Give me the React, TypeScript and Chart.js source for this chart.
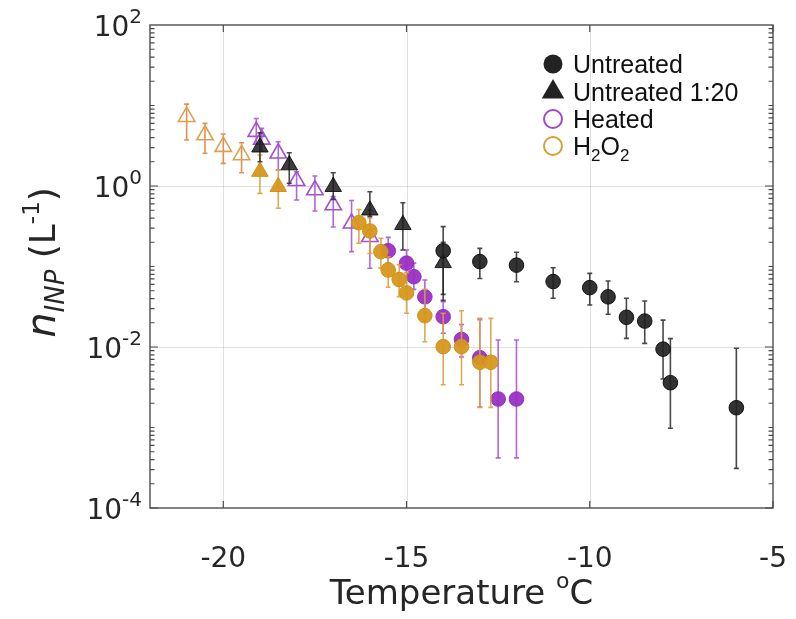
import React, { useEffect, useRef } from 'react';
import { Chart, registerables } from 'chart.js';
Chart.register(...registerables);

// ---- data (temperature in °C, n_INP in L^-1) ----
const untreatedT = [-14, -13, -12, -11, -10, -9.5, -9, -8.5, -8, -7.8, -6];
const untreatedN = [0.157, 0.115, 0.104, 0.065, 0.0546, 0.042, 0.0234, 0.021, 0.0094, 0.0036, 0.00176];
const untreatedHi = [0.313, 0.168, 0.15, 0.0966, 0.0822, 0.066, 0.0403, 0.0372, 0.0216, 0.0127, 0.00964];
const untreatedLo = [0.045, 0.0708, 0.0646, 0.0403, 0.0333, 0.0255, 0.0128, 0.0111, 0.004, 0.00098, 0.000311];

const untreated20T = [-19, -18.2, -17, -16, -15.1, -14];
const untreated20N = [3.03, 1.82, 0.98, 0.5, 0.33, 0.111];
const untreated20Hi = [4.57, 2.59, 1.46, 0.85, 0.62, 0.2];
const untreated20Lo = [2.0, 1.08, 0.68, 0.42, 0.16, 0.038];

const heatedT = [-15.5, -15, -14.8, -14.5, -14, -13.5, -13, -12.5, -12];
const heatedN = [0.157, 0.11, 0.0747, 0.042, 0.0238, 0.0124, 0.00736, 0.00226, 0.00226];
const heatedHi = [0.23, 0.16, 0.11, 0.068, 0.0366, 0.019, 0.0219, 0.0122, 0.0122];
const heatedLo = [0.11, 0.0748, 0.052, 0.0263, 0.0148, 0.0075, 0.0018, 0.00042, 0.00042];

const heated20T = [-19.1, -18.95, -18.5, -18, -17.5, -17, -16.5, -16];
const heated20N = [4.73, 3.8, 2.55, 1.16, 0.89, 0.58, 0.344, 0.234];
const heated20Hi = [6.9, 5.2, 3.55, 1.5, 1.33, 0.74, 0.66, 0.5];
const heated20Lo = [3.3, 2.7, 1.58, 0.67, 0.49, 0.31, 0.153, 0.095];

const h2o2T = [-16.3, -16, -15.7, -15.5, -15.2, -15, -14.5, -14, -13.5, -13, -12.7];
const h2o2N = [0.35, 0.276, 0.153, 0.0905, 0.069, 0.047, 0.0245, 0.0101, 0.0101, 0.00646, 0.00646];
const h2o2Hi = [0.51, 0.4, 0.224, 0.132, 0.105, 0.084, 0.052, 0.0263, 0.0282, 0.0227, 0.0227];
const h2o2Lo = [0.195, 0.145, 0.0955, 0.0552, 0.0422, 0.0263, 0.0116, 0.0034, 0.0034, 0.00178, 0.00178];

const h2o2FilledTriT = [-19, -18.5];
const h2o2FilledTriN = [1.51, 0.98];
const h2o2FilledTriHi = [2.43, 1.58];
const h2o2FilledTriLo = [0.81, 0.53];

const h2o2OpenTriT = [-21, -20.5, -20, -19.5];
const h2o2OpenTriN = [7.26, 4.3, 3.08, 2.43];
const h2o2OpenTriHi = [10.4, 6.0, 4.43, 3.45];
const h2o2OpenTriLo = [3.72, 2.55, 1.91, 1.46];

// ---- axes ----
const xMin = -22;
const xMax = -5;
const yMin = 1e-4;
const yMax = 100;
const xTickValues = [-20, -15, -10, -5];
const xTickLabels = ['-20', '-15', '-10', '-5'];
const xGridValues = [-20, -15, -10];
const yTickExponents = [-4, -2, 0, 2];
const yTickExpLabels = ['-4', '-2', '0', '2'];
const yGridValues = [1, 0.01];

const legendLabels = ['Untreated', 'Untreated 1:20', 'Heated', 'H2O2'];

const BLACK = 'rgba(34,34,34,0.92)';
const BLACK_TRI = 'rgba(28,28,28,0.86)';
const PURPLE = 'rgba(154,48,196,0.95)';
const PURPLE_LINE = 'rgba(168,86,212,0.9)';
const ORANGE = 'rgba(214,152,28,0.95)';
const ORANGE_LINE = 'rgba(220,160,60,0.9)';
const ORANGE_OPEN = 'rgba(222,160,80,1)';
const ORANGE_OPEN_ERR = 'rgba(228,138,70,0.95)';

const pts = (t: number[], n: number[]) => t.map((x, i) => ({ x, y: n[i] }));

type Part = { text: string; size: number; italic?: boolean; dy?: number; family?: string };

function richWidth(ctx: CanvasRenderingContext2D, parts: Part[], family: string) {
  let w = 0;
  for (const p of parts) {
    ctx.font = `${p.italic ? 'italic ' : ''}${p.size}px "${p.family || family}"`;
    w += ctx.measureText(p.text).width;
  }
  return w;
}

function drawRich(ctx: CanvasRenderingContext2D, parts: Part[], x: number, y: number, family: string) {
  let cx = x;
  ctx.textBaseline = 'alphabetic';
  ctx.textAlign = 'left';
  for (const p of parts) {
    ctx.font = `${p.italic ? 'italic ' : ''}${p.size}px "${p.family || family}"`;
    ctx.fillText(p.text, cx, y + (p.dy || 0));
    cx += ctx.measureText(p.text).width;
  }
}

const errorBarPlugin = {
  id: 'errorBars',
  beforeDatasetDraw(chart: any, args: any) {
    const ds = chart.data.datasets[args.index];
    if (!ds.errLo) return;
    const xs = chart.scales.x;
    const ys = chart.scales.y;
    const ctx: CanvasRenderingContext2D = chart.ctx;
    ctx.save();
    ctx.strokeStyle = ds.errColor;
    ctx.lineWidth = 1.6;
    ds.data.forEach((p: any, i: number) => {
      const px = xs.getPixelForValue(p.x);
      const top = ys.getPixelForValue(ds.errHi[i]);
      const bot = ys.getPixelForValue(ds.errLo[i]);
      ctx.beginPath();
      ctx.moveTo(px, top);
      ctx.lineTo(px, bot);
      ctx.moveTo(px - 2.5, top);
      ctx.lineTo(px + 2.5, top);
      ctx.moveTo(px - 2.5, bot);
      ctx.lineTo(px + 2.5, bot);
      ctx.stroke();
    });
    ctx.restore();
  },
};

const axesPlugin = {
  id: 'matlabAxes',
  beforeDatasetsDraw(chart: any) {
    const { ctx, chartArea: a } = chart;
    const xs = chart.scales.x;
    const ys = chart.scales.y;
    ctx.save();
    ctx.strokeStyle = 'rgba(0,0,0,0.12)';
    ctx.lineWidth = 1;
    for (const v of xGridValues) {
      const px = Math.round(xs.getPixelForValue(v)) + 0.5;
      ctx.beginPath();
      ctx.moveTo(px, a.top);
      ctx.lineTo(px, a.bottom);
      ctx.stroke();
    }
    for (const v of yGridValues) {
      const py = Math.round(ys.getPixelForValue(v)) + 0.5;
      ctx.beginPath();
      ctx.moveTo(a.left, py);
      ctx.lineTo(a.right, py);
      ctx.stroke();
    }
    ctx.restore();
  },
  afterDatasetsDraw(chart: any) {
    const { ctx, chartArea: a } = chart;
    const xs = chart.scales.x;
    const ys = chart.scales.y;
    ctx.save();
    ctx.strokeStyle = '#5a5a5a';
    ctx.lineWidth = 1.5;
    ctx.strokeRect(a.left, a.top, a.right - a.left, a.bottom - a.top);
    ctx.lineWidth = 1.2;
    ctx.strokeStyle = '#4a4a4a';
    for (const v of xTickValues) {
      const px = xs.getPixelForValue(v);
      ctx.beginPath();
      ctx.moveTo(px, a.bottom);
      ctx.lineTo(px, a.bottom - 7);
      ctx.moveTo(px, a.top);
      ctx.lineTo(px, a.top + 7);
      ctx.stroke();
    }
    for (let e = -4; e < 2; e++) {
      for (let m = 1; m <= 9; m++) {
        const v = m * Math.pow(10, e);
        const py = ys.getPixelForValue(v);
        const len = m === 1 && e % 2 === 0 ? 8 : 4.5;
        ctx.beginPath();
        ctx.moveTo(a.left, py);
        ctx.lineTo(a.left + len, py);
        ctx.moveTo(a.right, py);
        ctx.lineTo(a.right - len, py);
        ctx.stroke();
      }
    }
    ctx.restore();

    // tick labels
    ctx.save();
    ctx.fillStyle = '#262626';
    const fam = 'DejaVu Sans';
    ctx.font = `28px "${fam}"`;
    ctx.textAlign = 'center';
    ctx.textBaseline = 'alphabetic';
    xTickValues.forEach((v, i) => {
      ctx.fillText(xTickLabels[i], xs.getPixelForValue(v), 567);
    });
    yTickExponents.forEach((e, i) => {
      const py = ys.getPixelForValue(Math.pow(10, e));
      const parts: Part[] = [
        { text: '10', size: 28 },
        { text: yTickExpLabels[i], size: 20, dy: -13 },
      ];
      const w = richWidth(ctx, parts, fam);
      drawRich(ctx, parts, a.left - 8 - w, py + 11, fam);
    });

    // x title
    const xt: Part[] = [
      { text: 'Temperature ', size: 34 },
      { text: 'o', size: 22, dy: -16 },
      { text: 'C', size: 34 },
    ];
    const xw = richWidth(ctx, xt, fam);
    drawRich(ctx, xt, (a.left + a.right) / 2 - xw / 2, 604, fam);

    // y title
    const yt: Part[] = [
      { text: 'n', size: 40, italic: true },
      { text: 'INP', size: 26, italic: true, dy: 9 },
      { text: ' (L', size: 36 },
      { text: '-1', size: 23, dy: -16 },
      { text: ')', size: 36 },
    ];
    const yw = richWidth(ctx, yt, fam);
    ctx.translate(55, (a.top + a.bottom) / 2 - 4);
    ctx.rotate(-Math.PI / 2);
    drawRich(ctx, yt, -yw / 2, 0, fam);
    ctx.restore();

    // legend
    ctx.save();
    const lx = 553;
    const rows = [64, 92, 119, 146];
    const lf = 'Liberation Sans';
    ctx.fillStyle = 'rgba(34,34,34,1)';
    ctx.beginPath();
    ctx.arc(lx, rows[0], 9.5, 0, Math.PI * 2);
    ctx.fill();
    ctx.beginPath();
    const r = 13;
    ctx.moveTo(lx, rows[1] - r);
    ctx.lineTo(lx + r * Math.sin((2 * Math.PI) / 3), rows[1] - r * Math.cos((2 * Math.PI) / 3));
    ctx.lineTo(lx + r * Math.sin((4 * Math.PI) / 3), rows[1] - r * Math.cos((4 * Math.PI) / 3));
    ctx.closePath();
    ctx.fill();
    ctx.lineWidth = 2;
    ctx.strokeStyle = 'rgba(160,70,200,1)';
    ctx.beginPath();
    ctx.arc(lx, rows[2], 9, 0, Math.PI * 2);
    ctx.stroke();
    ctx.strokeStyle = 'rgba(214,160,50,1)';
    ctx.beginPath();
    ctx.arc(lx, rows[3], 9, 0, Math.PI * 2);
    ctx.stroke();
    ctx.fillStyle = '#111';
    const tx = 573;
    for (let i = 0; i < 3; i++) {
      drawRich(ctx, [{ text: legendLabels[i], size: 25 }], tx, rows[i] + 9, lf);
    }
    const lbl = legendLabels[3];
    drawRich(
      ctx,
      [
        { text: lbl[0], size: 25 },
        { text: lbl[1], size: 17, dy: 6 },
        { text: lbl[2], size: 25 },
        { text: lbl[3], size: 17, dy: 6 },
      ],
      tx,
      rows[3] + 9,
      lf
    );
    ctx.restore();
  },
};

export default function App() {
  const ref = useRef<HTMLCanvasElement | null>(null);
  useEffect(() => {
    if (!ref.current) return;
    const circleR = 7.3;
    const triR = 9.5;
    const chart = new Chart(ref.current, {
      type: 'scatter',
      data: {
        datasets: [
          {
            label: 'Untreated',
            data: pts(untreatedT, untreatedN),
            pointStyle: 'circle',
            pointRadius: circleR,
            backgroundColor: BLACK,
            borderColor: 'rgba(15,15,15,0.95)',
            borderWidth: 1,
            errLo: untreatedLo,
            errHi: untreatedHi,
            errColor: 'rgba(40,40,40,0.85)',
          } as any,
          {
            label: 'Untreated 1:20',
            data: pts(untreated20T, untreated20N),
            pointStyle: 'triangle',
            pointRadius: triR,
            backgroundColor: BLACK_TRI,
            borderColor: 'rgba(15,15,15,0.9)',
            borderWidth: 1,
            errLo: untreated20Lo,
            errHi: untreated20Hi,
            errColor: 'rgba(40,40,40,0.85)',
          } as any,
          {
            label: 'H2O2',
            data: pts(h2o2T, h2o2N),
            pointStyle: 'circle',
            pointRadius: circleR,
            backgroundColor: ORANGE,
            borderColor: 'rgba(205,145,25,1)',
            borderWidth: 1,
            errLo: h2o2Lo,
            errHi: h2o2Hi,
            errColor: ORANGE_LINE,
          } as any,
          {
            label: 'H2O2 1:20',
            data: pts(h2o2FilledTriT, h2o2FilledTriN),
            pointStyle: 'triangle',
            pointRadius: triR,
            backgroundColor: ORANGE,
            borderColor: 'rgba(205,145,25,1)',
            borderWidth: 1,
            errLo: h2o2FilledTriLo,
            errHi: h2o2FilledTriHi,
            errColor: ORANGE_LINE,
          } as any,
          {
            label: 'Heated',
            data: pts(heatedT, heatedN),
            pointStyle: 'circle',
            pointRadius: circleR,
            backgroundColor: PURPLE,
            borderColor: 'rgba(150,45,190,1)',
            borderWidth: 1,
            errLo: heatedLo,
            errHi: heatedHi,
            errColor: PURPLE_LINE,
          } as any,
          {
            label: 'Heated 1:20',
            data: pts(heated20T, heated20N),
            pointStyle: 'triangle',
            pointRadius: triR,
            backgroundColor: 'rgba(255,255,255,0)',
            borderColor: 'rgba(165,80,210,1)',
            borderWidth: 1.6,
            errLo: heated20Lo,
            errHi: heated20Hi,
            errColor: PURPLE_LINE,
          } as any,
          {
            label: 'H2O2 1:400',
            data: pts(h2o2OpenTriT, h2o2OpenTriN),
            pointStyle: 'triangle',
            pointRadius: triR,
            backgroundColor: 'rgba(255,255,255,0)',
            borderColor: ORANGE_OPEN,
            borderWidth: 1.6,
            errLo: h2o2OpenTriLo,
            errHi: h2o2OpenTriHi,
            errColor: ORANGE_OPEN_ERR,
          } as any,
        ],
      },
      options: {
        animation: false,
        responsive: false,
        events: [],
        layout: { padding: { left: 150, right: 23, top: 25, bottom: 111 } },
        scales: {
          x: { type: 'linear', min: xMin, max: xMax, display: false },
          y: { type: 'logarithmic', min: yMin, max: yMax, display: false },
        },
        plugins: {
          legend: { display: false },
          tooltip: { enabled: false },
        },
      },
      plugins: [errorBarPlugin, axesPlugin],
    });
    return () => chart.destroy();
  }, []);
  return (
    <div style={{ position: 'fixed', left: 0, top: 0, width: 796, height: 619, background: '#fff' }}>
      <canvas ref={ref} width={796} height={619} style={{ width: 796, height: 619, display: 'block' }} />
    </div>
  );
}
